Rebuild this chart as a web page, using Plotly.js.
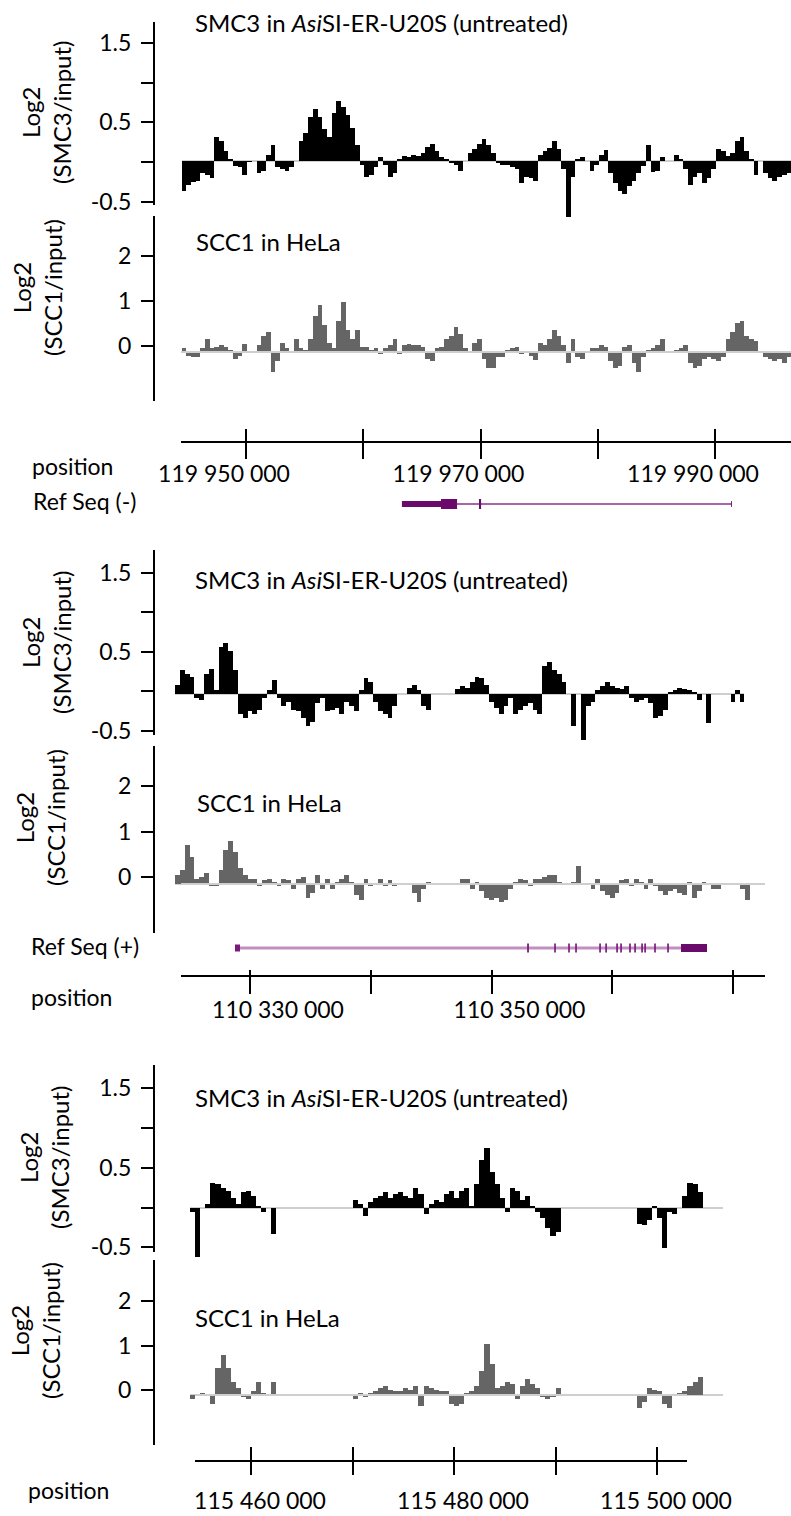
<!DOCTYPE html>
<html><head><meta charset="utf-8">
<script src="https://cdn.plot.ly/plotly-3.0.1.min.js"></script>
<style>html,body{margin:0;padding:0;background:#fff}</style>
</head><body><div id="chart" style="width:791px;height:1516px"></div>
<script>
// ---------------- DATA ----------------
// Panel 1 (around 119 950 000 - 119 996 000), 400 bp bins
const p1Start = 119944500, p1Bin = 400;
const p1SMC3 = [-0.38,-0.3,-0.27,-0.25,-0.15,-0.18,-0.22,0.3,0.25,0.12,0.03,-0.06,-0.08,-0.18,-0.01,0,-0.15,-0.12,0.08,0.2,
-0.08,-0.1,-0.12,-0.08,0,0.25,0.35,0.55,0.65,0.55,0.4,0.3,0.6,0.75,0.68,0.58,0.42,0.2,-0.05,-0.2,
-0.18,-0.08,0.05,-0.05,-0.2,-0.15,0.02,0.06,0.05,0.08,0.06,0.1,0.18,0.22,0.12,0.05,0.02,-0.03,-0.05,-0.12,
0,0.1,0.15,0.22,0.28,0.2,0.1,-0.02,-0.05,-0.05,-0.08,-0.1,-0.28,-0.2,-0.22,-0.25,0.08,0.12,0.16,0.25,
0.15,-0.1,-0.7,-0.2,0.02,0.05,0,-0.12,-0.05,0.08,0.14,-0.15,-0.28,-0.38,-0.42,-0.32,-0.25,-0.15,-0.06,0.2,
-0.14,-0.13,0.05,0,0,0.08,0.02,-0.1,-0.3,-0.2,-0.15,-0.28,-0.22,-0.1,0.15,0.12,0.06,0.1,0.25,0.3,
0.12,0.03,-0.18,0,-0.15,-0.22,-0.25,-0.2,-0.18,-0.15,0.05];
const p1SCC1 = [0.08,-0.08,-0.1,-0.12,0.1,0.28,0.1,0.12,0.15,0.12,0.05,-0.15,-0.08,0.18,0,0,0.15,0.35,0.45,-0.45,
-0.2,0.2,0.1,0,0.3,0.08,0.05,0.3,0.8,1.05,0.6,0.2,0.1,0.7,1.12,0.5,0.3,0.5,0.12,0.12,
0.05,0.1,-0.05,0.08,0.15,0.3,-0.05,0.15,0.18,0.15,0.15,0.12,-0.15,-0.2,0.1,0.12,0.3,0.35,0.55,0.4,
0.1,0,0.2,0.3,-0.15,-0.35,-0.35,-0.12,-0.1,0.05,0.08,0.12,-0.05,0.02,-0.08,-0.18,0.2,0.15,0.3,0.5,
0.35,0.15,-0.25,0.3,-0.12,-0.15,0,0.08,0.1,0.15,0.12,-0.2,-0.35,-0.3,0.12,0.15,-0.25,-0.45,-0.1,0.05,
0.08,0.15,0.3,0,0,0.05,0.1,0.15,-0.25,-0.35,-0.3,-0.15,-0.1,-0.15,-0.2,-0.12,0.3,0.45,0.65,0.7,
0.35,0.3,0.25,0,-0.1,-0.15,-0.2,-0.15,-0.25,-0.1,-0.15];
const p1Ticks = [119950000,119960000,119970000,119980000,119990000];
const p1TickText = ['119 950 000','','119 970 000','','119 990 000'];
// Ref Seq (-) gene in panel 1
const g1IntronStart = [119968000], g1IntronEnd = [119991450];
const g1UtrStart = [119963300, 119991380], g1UtrEnd = [119966630, 119991450];
const g1CdsStart = [119966630, 119969870], g1CdsEnd = [119968000, 119970050];

// Panel 2 (around 110 330 000 - 110 370 000), 400 bp bins
const p2Start = 110323800, p2Bin = 400;
const p2SMC3 = [0.12,0.3,0.25,0.22,-0.05,-0.07,0.25,0.32,0.05,0.6,0.65,0.55,0.3,-0.25,-0.3,-0.22,-0.25,-0.2,-0.05,0.05,
0.18,-0.05,-0.15,-0.1,-0.2,-0.22,-0.3,-0.4,-0.35,-0.12,-0.05,-0.22,-0.2,-0.18,-0.25,-0.1,-0.15,-0.22,0.05,0.2,
0.15,-0.1,-0.22,-0.25,-0.3,-0.15,0,0,0.08,0.12,0.05,-0.15,-0.2,0,0,0,0,0,0.06,0.1,
0.08,0.15,0.22,0.2,0.12,-0.1,-0.18,-0.25,-0.15,-0.05,-0.25,-0.2,-0.15,-0.12,-0.2,-0.25,0.35,0.4,0.3,0.25,
0.15,0,-0.4,0,-0.58,-0.15,-0.1,0.05,0.1,0.15,0.1,0.08,0.06,0.1,-0.05,-0.1,-0.08,-0.05,-0.12,-0.3,
-0.28,-0.2,0.02,0.05,0.08,0.06,0.05,0.03,-0.08,0,-0.37,0,0,0,0,-0.1,0.05,-0.1,0];
const p2SCC1 = [0.2,0.3,0.85,0.6,0.1,0.15,0.25,-0.05,-0.05,0.3,0.75,0.95,0.7,0.35,0.2,0.1,0.12,-0.05,0.08,0.1,
0.05,-0.05,0.1,0.08,-0.1,0.12,0.15,-0.3,-0.2,0.2,-0.1,0.1,-0.1,0.05,0.1,0.2,0.05,-0.25,-0.35,0.1,
-0.05,0.02,0.1,-0.05,0.08,-0.05,0,0,0,-0.2,-0.4,-0.1,0.05,0,0,0,0,0,0,0.1,
0.1,-0.1,0.05,-0.15,-0.3,-0.35,-0.3,-0.4,-0.35,-0.1,0.05,0.1,0.08,-0.05,0.12,0.1,0.15,0.2,0.2,0.05,
0,0,0.05,0.4,0,0,-0.1,0.1,-0.15,-0.25,-0.3,-0.2,0.08,0.1,-0.05,0.1,0.05,-0.1,0.1,-0.05,
-0.15,-0.25,-0.15,-0.1,-0.2,-0.25,0.05,-0.3,-0.15,0.05,0,-0.1,-0.12,0,0,0,0,-0.1,-0.35,0];
const p2Ticks = [110330000,110340000,110350000,110360000,110370000];
const p2TickText = ['110 330 000','','110 350 000','',''];
// Ref Seq (+) gene in panel 2
const g2IntronStart = [110329172], g2IntronEnd = [110365694];
const g2UtrStart = [110328758], g2UtrEnd = [110329172];
const g2ExonStart = [110352950,110355190,110356350,110356930,110358920,110359420,110360330,110360660,110361400,110361820,110362400,110362650,110363470,110364550];
const g2ExonEnd   = [110353100,110355330,110356490,110357070,110359060,110359560,110360470,110360800,110361540,110361960,110362540,110362790,110363610,110364690];
const g2CdsStart = [110365694], g2CdsEnd = [110367847];

// Panel 3 (around 115 460 000 - 115 500 000), 500 bp bins
const p3Start = 115454000, p3Bin = 500;
const p3SMC3 = [-0.05,-0.62,0,0.05,0.32,0.3,0.25,0.22,0.12,0.05,0.2,0.22,0.15,0.03,-0.05,0,-0.33,0,0,0,
0,0,0,0,0,0,0,0,0,0,0,0,0.1,0.05,-0.1,0.08,0.12,0.15,0.2,0.12,
0.18,0.2,0.15,0.12,0.25,0.18,-0.08,0.05,0.1,0.08,0.18,0.22,0.12,0.22,0.25,0.02,0.3,0.6,0.75,0.45,
0.3,0.12,-0.05,0.25,0.22,0.1,0.15,0.02,-0.05,-0.12,-0.25,-0.35,-0.3,0,0,0,0,0,0,0,
0,0,0,0,0,0,0,0,-0.2,-0.22,-0.15,0.03,-0.12,-0.5,-0.05,-0.08,0,0.15,0.32,0.3,
0.2,0,0,0,0];
const p3SCC1 = [-0.1,0,0.05,0,-0.2,0.6,0.9,0.6,0.3,0.15,-0.05,-0.1,0.1,0.3,0.05,0,0.3,0,0,0,
0,0,0,0,0,0,0,0,0,0,0,0,-0.1,0.05,-0.05,0.05,0.1,0.15,0.2,0.12,
0.1,0.08,0.15,0.12,0.2,-0.25,0.2,0.15,0.12,0.1,0.08,-0.2,-0.25,-0.2,0.05,0.08,0.2,0.55,1.15,0.7,
0.15,0.2,0.3,0.25,-0.1,0.2,0.35,0.25,0.15,-0.05,-0.1,-0.05,0.15,0,0,0,0,0,0,0,
0,0,0,0,0,0,0,0,-0.3,-0.15,0.15,0.12,0.1,-0.2,-0.3,0,0.05,0.1,0.2,0.3,
0.4,0,0,0,0];
const p3Ticks = [115460000,115470000,115480000,115490000,115500000];
const p3TickText = ['115 460 000','','115 480 000','','115 500 000'];

const smc3Ticks = [-0.5,0,0.5,1,1.5], smc3TickText = ['-0.5','','0.5','','1.5'];
const scc1Ticks = [0,1,2], scc1TickText = ['0','1','2'];

// ---------------- LAYOUT GEOMETRY (pixels) ----------------
const W = 791, H = 1516;
const FONT = 'Lato, "Open Sans", sans-serif';
const fx = p => p / W;
const fy = p => 1 - p / H;
const AXX = 154;
const TICKFONT = {size:23, family:FONT, color:'#000'};

const panels = [
  {map:{p0:246,g0:119950000,k:0.011725}, start:p1Start, bin:p1Bin, smc3:p1SMC3, scc1:p1SCC1,
   ticks:p1Ticks, tickText:p1TickText,
   smc3Geo:{top:22,bot:205,zero:162,unit:79.5,base:161,dTop:10,dBot:232,L:182,R:791},
   scc1Geo:{top:216,bot:401,zero:346,unit:45,base:352,dTop:206,dBot:420,L:182,R:791},
   pos:{y:442,L:181,R:791,out:16,inn:13,shift:-22,stand:11},
   gene:{y:504}},
  {map:{p0:250,g0:110330000,k:0.012075}, start:p2Start, bin:p2Bin, smc3:p2SMC3, scc1:p2SCC1,
   ticks:p2Ticks, tickText:p2TickText,
   smc3Geo:{top:550,bot:735,zero:691,unit:79,base:694,dTop:540,dBot:760,L:175,R:744},
   scc1Geo:{top:746,bot:933,zero:877,unit:45.5,base:884,dTop:736,dBot:945,L:175,R:753},
   pos:{y:976,L:181,R:765,out:17,inn:6,shift:28,stand:13},
   gene:{y:948}},
  {map:{p0:251,g0:115460000,k:0.01015}, start:p3Start, bin:p3Bin, smc3:p3SMC3, scc1:p3SCC1,
   ticks:p3Ticks, tickText:p3TickText,
   smc3Geo:{top:1065,bot:1252,zero:1207.5,unit:79.5,base:1208,dTop:1055,dBot:1275,L:190,R:723},
   scc1Geo:{top:1260,bot:1445,zero:1390,unit:44.5,base:1395,dTop:1250,dBot:1455,L:190,R:723},
   pos:{y:1461,L:195,R:687,out:13,inn:14,shift:9,stand:19},
   gene:null}
];

const traces = [];
const layout = {
  width: W, height: H, margin:{l:0,r:0,t:0,b:0},
  paper_bgcolor:'#ffffff', plot_bgcolor:'rgba(0,0,0,0)',
  showlegend:false, bargap:0,
  font:{family:FONT, size:22, color:'#000'},
  annotations:[]
};
let nx = 0, ny = 0;
const newX = () => { nx++; return nx; };
const newY = () => { ny++; return ny; };
const key = (a, n) => a + 'axis' + (n === 1 ? '' : n);
const ref = (a, n) => a + (n === 1 ? '' : n);

function xRange(m, L, R){ return [m.g0 + (L - m.p0)/m.k, m.g0 + (R - m.p0)/m.k]; }
const hidden = {showline:false, showticklabels:false, ticks:'', showgrid:false, zeroline:false, fixedrange:true};

function addTrack(P, vals, geo, color, isSMC3){
  const xi = newX(), yd = newY(), yv = newY();
  layout[key('x',xi)] = Object.assign({}, hidden, {domain:[fx(geo.L), fx(geo.R)], range:xRange(P.map, geo.L, geo.R), anchor:ref('y',yd)});
  layout[key('y',yd)] = Object.assign({}, hidden, {domain:[fy(geo.dBot), fy(geo.dTop)],
     range:[(geo.base - geo.dBot)/geo.unit, (geo.base - geo.dTop)/geo.unit], anchor:ref('x',xi),
     zeroline:true, zerolinecolor:'#cfcfcf', zerolinewidth:1.5});
  layout[key('y',yv)] = {domain:[fy(geo.bot), fy(geo.top)], range:[(geo.zero - geo.bot)/geo.unit, (geo.zero - geo.top)/geo.unit],
     anchor:'free', position:fx(AXX), side:'left', showline:true, linecolor:'#000', linewidth:2,
     ticks:'outside', ticklen:12, tickwidth:2, tickcolor:'#000', showgrid:false, zeroline:false, fixedrange:true,
     tickmode:'array', tickvals: isSMC3 ? smc3Ticks : scc1Ticks,
     ticktext: isSMC3 ? smc3TickText : scc1TickText, tickfont:TICKFONT,
     ticklabelstandoff:5};
  traces.push({type:'bar', x: vals.map((v,i)=> P.start + P.bin*(i+0.5)), y: vals, width: P.bin,
     marker:{color:color, line:{width:0}}, xaxis:ref('x',xi), yaxis:ref('y',yd), hoverinfo:'skip'});
  traces.push({type:'scatter', mode:'markers', x:[null], y:[null], xaxis:ref('x',xi), yaxis:ref('y',yv), hoverinfo:'skip'});
  return {xi, yd};
}

function segs(starts, ends){
  const x = [], y = [];
  starts.forEach((s,i)=>{ x.push(s, ends[i], null); y.push(0,0,null); });
  return {x, y};
}

panels.forEach((P, pi) => {
  addTrack(P, P.smc3, P.smc3Geo, '#000000', true);
  const t2 = addTrack(P, P.scc1, P.scc1Geo, '#656565', false);

  // position axis: labelled line + tick marks below + tick marks above
  const xp = newX(), xq = newX(), xr = newX();
  const base = {domain:[fx(P.pos.L), fx(P.pos.R)], range:xRange(P.map, P.pos.L, P.pos.R),
     anchor:'free', position:fy(P.pos.y), side:'bottom', tickmode:'array', tickvals:P.ticks,
     tickwidth:2, tickcolor:'#000', showgrid:false, zeroline:false, fixedrange:true};
  layout[key('x',xp)] = Object.assign({}, base, {showline:true, linecolor:'#000', linewidth:2, ticks:'',
     ticktext:P.tickText, tickfont:TICKFONT, ticklabelshift:P.pos.shift, ticklabelstandoff:P.pos.stand});
  layout[key('x',xq)] = Object.assign({}, base, {showline:false, ticks:'outside', ticklen:P.pos.out, showticklabels:false});
  layout[key('x',xr)] = Object.assign({}, base, {showline:false, ticks:'inside', ticklen:P.pos.inn, showticklabels:false});
  [xp, xq, xr].forEach(a => traces.push({type:'scatter', mode:'markers', x:[null], y:[null], xaxis:ref('x',a), yaxis:ref('y',t2.yd), hoverinfo:'skip'}));

  // gene track
  if (P.gene){
    const yg = newY();
    layout[key('y',yg)] = Object.assign({}, hidden, {domain:[fy(P.gene.y+12), fy(P.gene.y-12)], range:[-1,1], anchor:ref('x',t2.xi)});
    const add = (s, e, w, c) => { const g = segs(s, e);
      traces.push({type:'scatter', mode:'lines', x:g.x, y:g.y, line:{color:c, width:w}, xaxis:ref('x',t2.xi), yaxis:ref('y',yg), hoverinfo:'skip'}); };
    if (pi === 0){
      add(g1IntronStart, g1IntronEnd, 2, '#a866a8');
      add(g1UtrStart, g1UtrEnd, 6, '#6a0a6a');
      add(g1CdsStart, g1CdsEnd, 10, '#6a0a6a');
    } else {
      add(g2IntronStart, g2IntronEnd, 3, '#c190c1');
      add(g2UtrStart, g2UtrEnd, 7, '#7a1a7a');
      add(g2ExonStart, g2ExonEnd, 9, '#7a1a7a');
      add(g2CdsStart, g2CdsEnd, 8, '#6a0a6a');
    }
  }
});

// ---------------- TEXT ----------------
function ann(text, xpx, ypx, opts){
  layout.annotations.push(Object.assign({text, x:fx(xpx), y:fy(ypx), xref:'paper', yref:'paper', showarrow:false,
    xanchor:'left', yanchor:'middle', font:{size:24, family:FONT, color:'#000'}}, opts||{}));
}
const smc3Title = 'SMC3 in <i>Asi</i>SI-ER-U20S (untreated)';
const scc1Title = 'SCC1 in HeLa';
ann(smc3Title, 193, 22); ann(scc1Title, 194, 242);
ann(smc3Title, 193, 580); ann(scc1Title, 195, 802);
ann(smc3Title, 193, 1097); ann(scc1Title, 193, 1317);
const yt = {textangle:-90, xanchor:'center', yanchor:'middle'};
ann('Log2<br>(SMC3/input)', 46, 112, yt);
ann('Log2<br>(SCC1/input)', 37, 288, yt);
ann('Log2<br>(SMC3/input)', 46, 642, yt);
ann('Log2<br>(SCC1/input)', 40, 818, yt);
ann('Log2<br>(SMC3/input)', 44, 1157, yt);
ann('Log2<br>(SCC1/input)', 35, 1331, yt);
const sm = {xanchor:'center', font:{size:23, family:FONT, color:'#000'}};
ann('position', 72, 466, sm);
ann('Ref Seq (-)', 84, 501, sm);
ann('Ref Seq (+)', 85, 946, sm);
ann('position', 71, 997, sm);
ann('position', 68, 1490, sm);

Plotly.newPlot('chart', traces, layout, {staticPlot:true, displayModeBar:false});
</script></body></html>
